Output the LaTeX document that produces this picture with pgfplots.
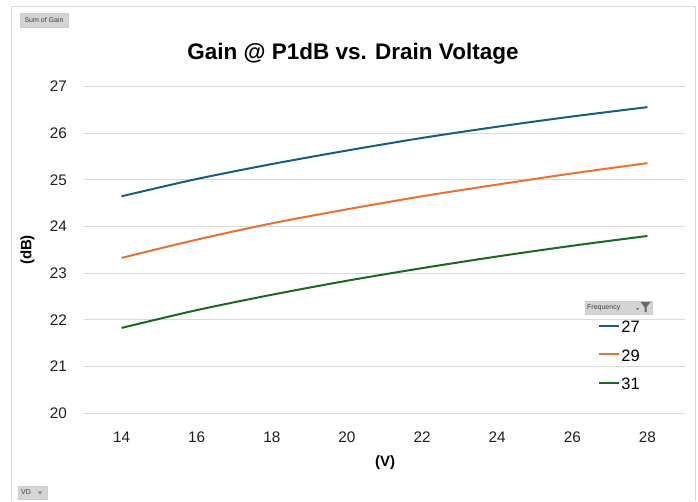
\documentclass[border=0pt]{standalone}
\usepackage{pgfplots}
\pgfplotsset{compat=1.18}
\usepackage{fontspec}
\setmainfont{Liberation Sans}
\definecolor{s27}{HTML}{156082}
\definecolor{s29}{HTML}{E97132}
\definecolor{s31}{HTML}{196B24}
\definecolor{gridc}{HTML}{D9D9D9}
\definecolor{btn}{HTML}{D4D4D4}
\begin{document}
\begin{tikzpicture}
\useasboundingbox (0pt,0pt) rectangle (698pt,501pt);
\fill[white] (0pt,0pt) rectangle (698pt,501pt);
\draw[gridc, line width=1pt] (11pt,0pt) -- (11pt,494pt) -- (695pt,494pt) -- (695pt,0pt);
\begin{axis}[
  at={(84pt,87.7pt)}, anchor=south west,
  scale only axis, width=601pt, height=326.7pt,
  xmin=13, xmax=29, ymin=20, ymax=27,
  xtick={14,16,...,28}, ytick={20,...,27},
  ymajorgrids, grid style={gridc, line width=1pt},
  axis line style={draw=none},
  major tick length=0pt,
  /pgf/number format/assume math mode=true,
  tick label style={font=\fontsize{15.3}{18}\selectfont, text=black!88},
  yticklabel style={anchor=east, inner sep=0pt, xshift=-17pt},
  xticklabel style={anchor=base, inner sep=0pt, yshift=-29pt},
  clip=false,
  legend style={at={(axis description cs:0.855,0.281)}, anchor=north west,
    draw=none, fill=none, inner sep=0pt, outer sep=0pt, row sep=17pt,
    font=\fontsize{16.5}{16}\selectfont,
    nodes={inner sep=0pt, text height=11.5pt, text depth=0pt},
    /tikz/every odd column/.style={column sep=1.5pt}},
  legend cell align=left,
  legend image code/.code={\draw[#1] (0pt,1.5pt) -- (20pt,1.5pt);},
]
\addplot[s27, line width=2pt, smooth] coordinates {(14,24.65) (16,25.02) (18,25.34) (20,25.63) (22,25.90) (24,26.14) (26,26.36) (28,26.56)};
\addlegendentry{27}
\addplot[s29, line width=2pt, smooth] coordinates {(14,23.33) (16,23.72) (18,24.07) (20,24.37) (22,24.65) (24,24.90) (26,25.14) (28,25.36)};
\addlegendentry{29}
\addplot[s31, line width=2pt, smooth] coordinates {(14,21.83) (16,22.21) (18,22.54) (20,22.84) (22,23.11) (24,23.36) (26,23.59) (28,23.80)};
\addlegendentry{31}
\end{axis}
\node[font=\fontsize{22.5}{23}\selectfont\bfseries] at (353pt,447.5pt) {Gain @ P1dB vs. Drain Voltage};
\node[font=\fontsize{15}{16}\selectfont\bfseries, rotate=90] at (27.5pt,251pt) {(dB)};
\node[font=\fontsize{15}{16}\selectfont\bfseries] at (385pt,38pt) {(V)};
% buttons
\node[fill=btn, draw=gray!40, minimum width=48pt, minimum height=14pt, inner sep=0pt, font=\fontsize{7}{7}\selectfont, text=black!75] at (44pt,481pt) {Sum of Gain};
\node[fill=btn, draw=gray!40, minimum width=29pt, minimum height=13pt, inner sep=0pt] at (32.5pt,8.5pt) {};
\node[font=\fontsize{7}{7}\selectfont, text=black!75, anchor=west, inner sep=0pt] at (21pt,8.5pt) {VD};
\fill[black!60] (38pt,9.5pt) -- (42pt,9.5pt) -- (40pt,7pt) -- cycle;
\node[fill=btn, draw=gray!40, minimum width=67pt, minimum height=13pt, inner sep=0pt] at (618.5pt,193.5pt) {};
\node[font=\fontsize{7}{7}\selectfont, text=black!75, anchor=west, inner sep=0pt] at (587pt,193.5pt) {Frequency};
\fill[black!60] (636pt,193pt) -- (639pt,193pt) -- (637.5pt,191pt) -- cycle;
\fill[black!60] (640.5pt,199pt) -- (650.5pt,199pt) -- (646.5pt,194pt) -- (646.5pt,188.5pt) -- (644.5pt,189.5pt) -- (644.5pt,194pt) -- cycle;
\end{tikzpicture}
\end{document}
